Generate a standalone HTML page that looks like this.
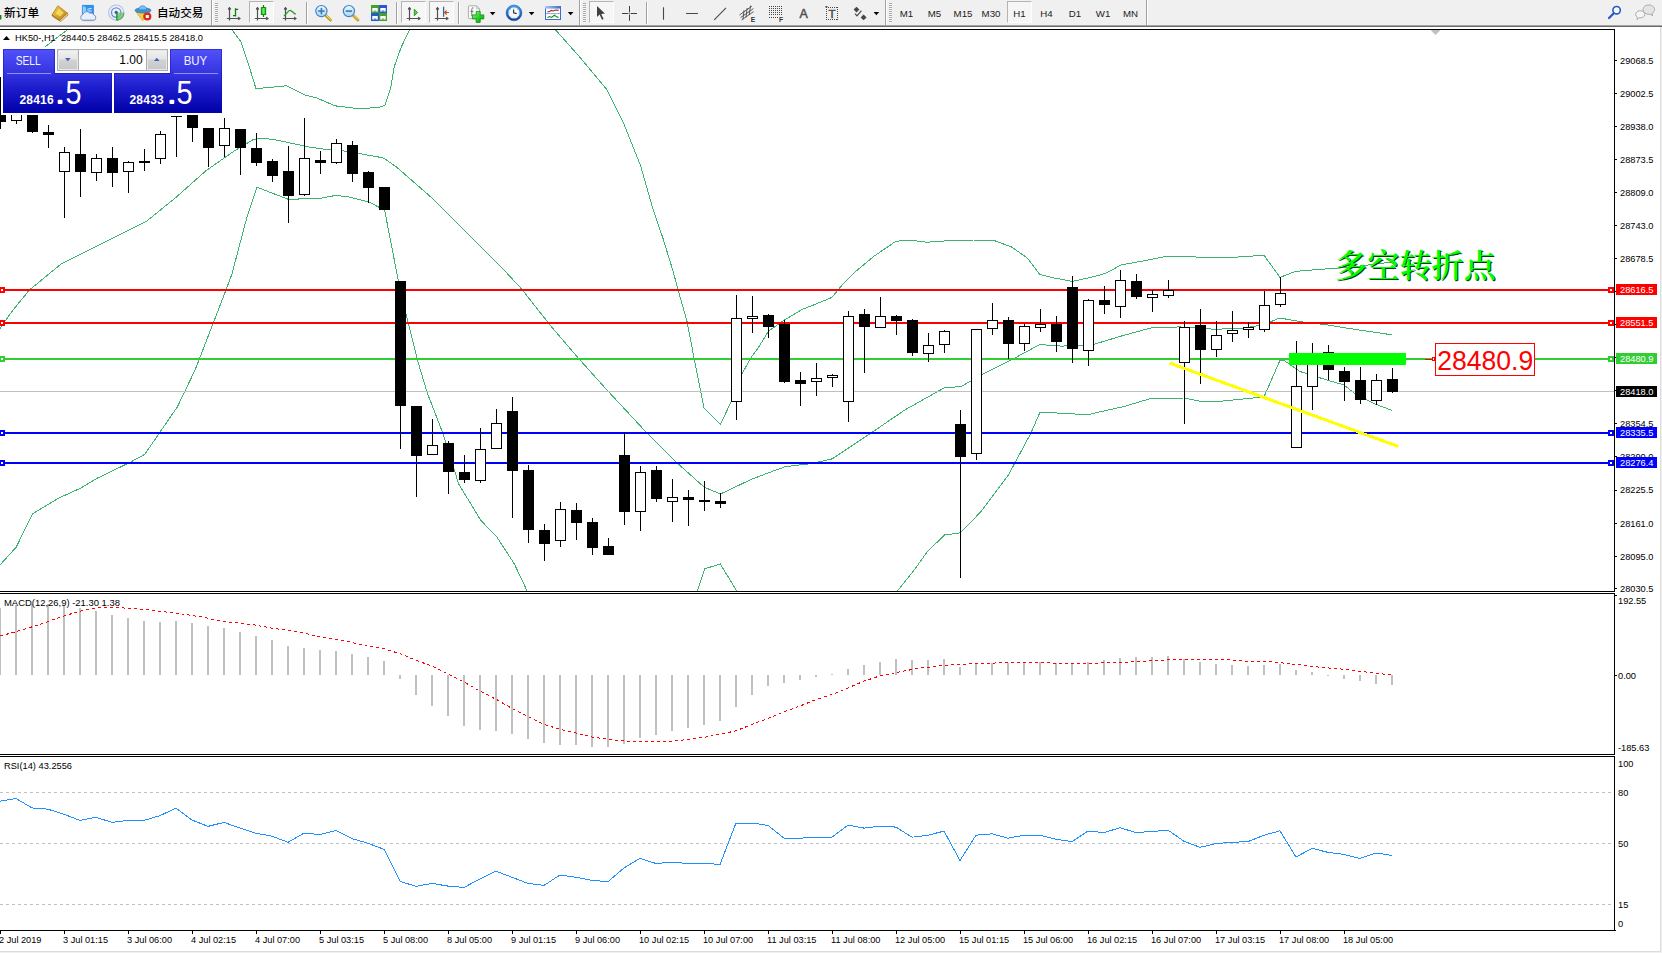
<!DOCTYPE html><html><head><meta charset="utf-8"><title>HK50-,H1</title>
<style>
html,body{margin:0;padding:0}
body{width:1662px;height:953px;overflow:hidden;position:relative;background:#f0f0f0;font-family:"Liberation Sans","Noto Sans CJK SC",sans-serif;}
#tb{position:absolute;left:0;top:0;width:1662px;height:25px;background:#f0f0f0}
#tb .t{position:absolute;white-space:nowrap;color:#000}
#tb svg{position:absolute;overflow:visible}
.sep{position:absolute;top:2px;width:1px;height:22px;background:#a0a0a0;box-shadow:1px 0 0 #fff}
.grip{position:absolute;top:3px;width:3px;height:20px;background:repeating-linear-gradient(to bottom,#a8a8a8 0,#a8a8a8 1px,#f8f8f8 1px,#f8f8f8 2px)}
.pr{position:absolute;top:1px;height:22px;box-sizing:border-box;border:1px solid #b4b4b4;border-right-color:#fdfdfd;border-bottom-color:#fdfdfd;background:#f6f6f6}
.tf{position:absolute;top:7.5px;font-size:9.7px;line-height:11px;color:#222}
#chart{position:absolute;left:0;top:0}
#chart text{font-family:"Liberation Sans","Noto Sans CJK SC",sans-serif}
#chart .zh text{font-family:"Liberation Serif","Noto Serif CJK SC",serif;font-weight:600}
</style></head><body>
<div id="tb">
<div class="pr" style="left:249px;width:25px"></div>
<div class="pr" style="left:401px;width:25px"></div>
<div class="pr" style="left:429px;width:25px"></div>
<div class="pr" style="left:589px;width:25px"></div>
<div class="pr" style="left:1007px;width:25px"></div>
<div class="sep" style="left:306px"></div>
<div class="sep" style="left:396px"></div>
<div class="sep" style="left:458px"></div>
<div class="sep" style="left:646px"></div>
<div class="sep" style="left:211px;top:0;height:25px"></div>
<div class="sep" style="left:579px;top:0;height:25px"></div>
<div class="sep" style="left:885px;top:0;height:25px"></div>
<div class="sep" style="left:1146px;top:0;height:25px"></div>
<div class="grip" style="left:215px"></div>
<div class="grip" style="left:583px"></div>
<div class="grip" style="left:889px"></div>
<div class="t" style="left:4px;top:3.6px;font-size:11.7px;line-height:17px;font-weight:500">新订单</div>
<div class="t" style="left:157px;top:3.5px;font-size:11.6px;line-height:17px;font-weight:500">自动交易</div>
<div class="tf" style="left:906.5px;width:40px;margin-left:-20px;text-align:center">M1</div>
<div class="tf" style="left:934.5px;width:40px;margin-left:-20px;text-align:center">M5</div>
<div class="tf" style="left:963.0px;width:40px;margin-left:-20px;text-align:center">M15</div>
<div class="tf" style="left:991.0px;width:40px;margin-left:-20px;text-align:center">M30</div>
<div class="tf" style="left:1019.5px;width:40px;margin-left:-20px;text-align:center">H1</div>
<div class="tf" style="left:1046.5px;width:40px;margin-left:-20px;text-align:center">H4</div>
<div class="tf" style="left:1075.0px;width:40px;margin-left:-20px;text-align:center">D1</div>
<div class="tf" style="left:1103.0px;width:40px;margin-left:-20px;text-align:center">W1</div>
<div class="tf" style="left:1130.5px;width:40px;margin-left:-20px;text-align:center">MN</div>
<svg width="1662" height="25" viewBox="0 0 1662 25" style="left:0;top:0">
<defs>
<linearGradient id="gold" x1="0" y1="0" x2="1" y2="1"><stop offset="0" stop-color="#f6d84a"/><stop offset="1" stop-color="#b87818"/></linearGradient>
<linearGradient id="lens" x1="0" y1="0" x2="0" y2="1"><stop offset="0" stop-color="#e8f6ff"/><stop offset="1" stop-color="#a8d8f4"/></linearGradient>
<linearGradient id="grn" x1="0" y1="0" x2="1" y2="0"><stop offset="0" stop-color="#18c018"/><stop offset="0.5" stop-color="#60f060"/><stop offset="1" stop-color="#18c018"/></linearGradient>
<g id="axes" fill="none" stroke="#505050" stroke-width="1.2"><path d="M3.5 7.5 V20.5 M0.8 18.5 H14"/><path d="M2.2 9.2 L3.5 7.2 L4.8 9.2 Z M12.4 17.2 L14.4 18.5 L12.4 19.8 Z" stroke-width="0.9" fill="#505050"/></g>
<linearGradient id="ring" x1="0" y1="0" x2="0" y2="1"><stop offset="0" stop-color="#3c9cf4"/><stop offset="1" stop-color="#0c48a4"/></linearGradient>
<linearGradient id="plus" x1="0" y1="0" x2="1" y2="1"><stop offset="0" stop-color="#90ff90"/><stop offset="0.5" stop-color="#30d030"/><stop offset="1" stop-color="#08a008"/></linearGradient>
<linearGradient id="hdr" x1="0" y1="0" x2="1" y2="0"><stop offset="0" stop-color="#a8c8f8"/><stop offset="1" stop-color="#3c6cd0"/></linearGradient>
<path id="dd" d="M0 0 H5.6 L2.8 3.2 Z" fill="#000"/>
</defs>
<rect x="0" y="15" width="1.4" height="4.5" fill="#108010"/>
<path d="M52 14.9 L57.9 5.7 L67.5 13.2 L59.9 20.5 Z" fill="url(#gold)" stroke="#b07818" stroke-width="0.8" stroke-linejoin="round"/>
<path d="M59.9 20.5 L67.5 13.2 L68 15 L60.6 21.6 L52.4 16.2 L52 14.9 Z" fill="#e8c878" stroke="#9a6410" stroke-width="0.7" stroke-linejoin="round"/>
<path d="M60.2 21 L67.7 14.2" stroke="#fff8e0" stroke-width="0.6"/><path d="M55.6 13.6 L58.8 8.8 L63.8 12.8 L60 16.6 Z" fill="#fce46c" opacity="0.75"/>
<path d="M82.4 5.4 H93.4 V14.5 H82.4 Z" fill="#2a96f4" stroke="#1a70d8" stroke-width="0.7"/><path d="M82.8 5.8 L86 7.4 V14 H82.8 Z" fill="#8fd0ff"/><path d="M87.4 9.2 L91.6 8.4 M87.4 11 H91.6" stroke="#e0f4ff" stroke-width="1"/>
<path d="M83.2 20.6 a3.2 3.2 0 0 1 -0.2 -6.2 a3.8 3.8 0 0 1 6.8 -1.2 a2.8 2.8 0 0 1 3.9 1.7 a2.9 2.9 0 0 1 -0.9 5.7 Z" fill="#eaf0fa" stroke="#6c88c4" stroke-width="0.9"/><path d="M82.6 19.6 H93.6" stroke="#c0cce4" stroke-width="1"/>
<g fill="none"><circle cx="116.2" cy="12.6" r="7.6" stroke="#b0c0e6" stroke-width="1.1"/><circle cx="116.2" cy="12.6" r="4.7" stroke="#6c8cd8" stroke-width="1.3"/><path d="M116.4 12.6 V20.4 A7.8 7.8 0 0 0 124 12.6 Z" fill="#78c078" fill-opacity="0.8"/><path d="M117 20.3 A7.7 7.7 0 0 0 123.9 12.8" stroke="#58a860" stroke-width="1.1"/><circle cx="116.2" cy="12.4" r="1.6" fill="#2c58cc"/><path d="M116.8 13 V20.6" stroke="#18a820" stroke-width="1.5"/></g>
<path d="M136.2 12 L150 12 L142.6 20.8 Z" fill="#f6d040" stroke="#d0a020" stroke-width="0.7" stroke-linejoin="round"/><ellipse cx="143" cy="10.4" rx="8" ry="2.6" fill="#3c94dc" stroke="#2c74b8" stroke-width="0.7"/><path d="M138.7 9.8 C138.7 4.4 146.6 4.4 146.6 9.8 Z" fill="#7cc0ec" stroke="#2c7cc0" stroke-width="0.6"/><circle cx="147.3" cy="16.5" r="4.1" fill="#dc2c14"/><rect x="145.8" y="15" width="3" height="3" fill="#fff"/>
<use href="#axes" x="226" y="0"/><path d="M235.5 8.3 V16.5 M235.5 9.3 H238.2 M233 15.6 H235.5" stroke="#088008" stroke-width="1.3" fill="none"/>
<use href="#axes" x="254" y="0"/><path d="M263.5 5 V17" stroke="#088008" stroke-width="1.2"/><rect x="261.3" y="7.6" width="4.4" height="7" fill="url(#grn)" stroke="#088008" stroke-width="0.9"/>
<use href="#axes" x="282" y="0"/><path d="M284 15.9 C286.5 14.5 288 10.4 290 10.4 C292 10.4 293.5 13.4 295.8 14.2" stroke="#2a9a2a" stroke-width="1.3" fill="none"/>
<path d="M325.6 15.2 L330.4 20" stroke="#c8a020" stroke-width="3" stroke-linecap="round"/><path d="M326.0 15 L330.4 19.4" stroke="#f0dc78" stroke-width="1" stroke-linecap="round"/>
<circle cx="321.4" cy="11.1" r="5.6" fill="url(#lens)" stroke="#3c80d0" stroke-width="1.2"/>
<path d="M318.2 11.1 H324.6" stroke="#3c7ca8" stroke-width="1.6"/>
<path d="M321.4 7.9 V14.3" stroke="#3c7ca8" stroke-width="1.6"/>
<path d="M353.1 15.2 L357.9 20" stroke="#c8a020" stroke-width="3" stroke-linecap="round"/><path d="M353.5 15 L357.9 19.4" stroke="#f0dc78" stroke-width="1" stroke-linecap="round"/>
<circle cx="348.9" cy="11.1" r="5.6" fill="url(#lens)" stroke="#3c80d0" stroke-width="1.2"/>
<path d="M345.7 11.1 H352.1" stroke="#3c7ca8" stroke-width="1.6"/>
<rect x="371" y="5" width="8" height="8" fill="#44a028"/><rect x="372.3" y="8.0" width="5.4" height="3.6" fill="#fff"/><rect x="373.7" y="10.6" width="2.6" height="1" fill="#44a028"/>
<rect x="379" y="5" width="8" height="8" fill="#2858d0"/><rect x="380.3" y="8.0" width="5.4" height="3.6" fill="#fff"/><rect x="381.7" y="10.6" width="2.6" height="1" fill="#2858d0"/>
<rect x="371" y="13" width="8" height="8" fill="#2858d0"/><rect x="372.3" y="16.0" width="5.4" height="3.6" fill="#fff"/><rect x="373.7" y="18.6" width="2.6" height="1" fill="#2858d0"/>
<rect x="379" y="13" width="8" height="8" fill="#44a028"/><rect x="380.3" y="16.0" width="5.4" height="3.6" fill="#fff"/><rect x="381.7" y="18.6" width="2.6" height="1" fill="#44a028"/>
<use href="#axes" x="406" y="0"/><path d="M414.3 9.2 L417.6 12.5 L414.3 15.8 Z" fill="#58d058" stroke="#108810" stroke-width="0.8"/>
<use href="#axes" x="434" y="0"/><path d="M443.6 6.7 V16.8" stroke="#2070a8" stroke-width="1.3"/><path d="M449 12.5 H444.6 M446.6 10.5 L444.6 12.5 L446.6 14.5" stroke="#d04808" stroke-width="1.1" fill="none"/>
<path d="M469.3 5.8 H476.6 L479.6 8.8 V17.6 Q479.6 18.6 478.6 18.6 H469.3 Q468.4 18.6 468.4 17.6 V6.8 Q468.4 5.8 469.3 5.8 Z" fill="#fafafa" stroke="#a4a4a4" stroke-width="0.9"/><path d="M476.6 5.8 V8.8 H479.6" fill="none" stroke="#a4a4a4" stroke-width="0.7"/><path d="M473.6 8 C471.8 7.4 471.8 9 471.8 10 V16 M470.4 11.4 H473.4" stroke="#5a5040" stroke-width="0.8" fill="none"/>
<path d="M476.2 11.4 H480.2 V14.9 H483.8 V18.9 H480.2 V22.4 H476.2 V18.9 H472.4 V14.9 H476.2 Z" fill="url(#plus)" stroke="#0c8c0c" stroke-width="0.8"/>
<use href="#dd" x="489.8" y="12"/>
<circle cx="514" cy="12.9" r="6.8" fill="#f4f6f8" stroke="url(#ring)" stroke-width="2.3"/><circle cx="514" cy="12.9" r="7.9" fill="none" stroke="#0c3c8c" stroke-width="0.4"/>
<g stroke="#9098a0" stroke-width="0.6"><path d="M514 7.6 V8.6 M514 17.2 V18.2 M508.7 12.9 H509.7 M518.3 12.9 H519.3 M510.3 9.2 L510.9 9.8 M517.7 9.2 L517.1 9.8 M510.3 16.6 L510.9 16 M517.7 16.6 L517.1 16"/></g>
<path d="M513.6 9.4 V12.8 L516.6 13.6" stroke="#303030" stroke-width="1.1" fill="none"/>
<use href="#dd" x="528.8" y="12"/>
<rect x="545.5" y="6.5" width="15" height="13" fill="#fff" stroke="#3c6cd0" stroke-width="1"/><rect x="545" y="6" width="16" height="2.6" fill="url(#hdr)"/><path d="M546 13.6 H560" stroke="#7c9ce0" stroke-width="0.9"/><path d="M547.4 12 L549.6 11.6 L551.2 10.4 L553.4 11 L555.4 10 L558.6 10.4" stroke="#a82810" stroke-width="1.1" fill="none"/><path d="M547.4 17.6 L549.6 16.6 L551.6 17.4 L554.4 15.2 L556.2 16.4 L558.6 17.6" stroke="#109018" stroke-width="1.1" fill="none"/>
<use href="#dd" x="567.8" y="12"/>
<path d="M597 6 V16.9 L599.6 14.6 L602 19.8 L603.6 19 L601.2 14 L604.9 13.6 Z" fill="#404040"/>
<path d="M622 13.5 H628 M631 13.5 H637 M629.5 6 V12 M629.5 15 V20.8" stroke="#404040" stroke-width="1"/><path d="M628 13.5 H631 M629.5 12 V15" stroke="#a0a0a0" stroke-width="1"/>
<path d="M663.5 7.2 V19.8 M686 13.5 H698 M714.2 19.8 L726 7.8" stroke="#484848" stroke-width="1.1" fill="none"/>
<g stroke="#484848" stroke-width="0.9" fill="none"><path d="M739.5 15 L751.8 6.2 M740.6 17.6 L753.4 8.6 M741.6 20 L753.6 11.6"/><path d="M744 10.2 L743 19.4 M747.2 8 L746 17.4 M750.6 5.6 L749.2 15"/></g>
<text x="750.8" y="21.7" font-size="6.6" font-weight="bold" fill="#333" font-family="'Liberation Sans',sans-serif">E</text>
<g stroke="#484848" stroke-width="1" stroke-dasharray="1 1" fill="none" shape-rendering="crispEdges"><path d="M769 6.5 H783 M769 8.5 H783 M769 10.5 H783 M769 12.5 H783 M769 14.5 H783 M769 17.5 H778"/></g>
<text x="779" y="21.7" font-size="6.6" font-weight="bold" fill="#333" font-family="'Liberation Sans',sans-serif">F</text>
<text x="803.6" y="17.8" font-size="12.4" stroke="#505050" stroke-width="0.5" fill="#505050" text-anchor="middle" font-family="'Liberation Sans',sans-serif">A</text>
<g stroke="#484848" stroke-width="1" stroke-dasharray="1 1" shape-rendering="crispEdges" fill="none"><path d="M826 7.5 H838 M826 19.5 H838 M826.5 7 V20 M837.5 7 V20"/></g><rect x="825.4" y="6" width="2" height="1.4" fill="#484848"/>
<text x="832" y="17.8" font-size="11.6" stroke="#505050" stroke-width="0.5" fill="#505050" text-anchor="middle" font-family="'Liberation Sans',sans-serif">T</text>
<path d="M856.5 6.8 L859.4 9.6 L856.5 12.4 L853.6 9.6 Z M863.6 14.6 L866.6 17.4 L863.6 20.2 L860.6 17.4 Z" fill="#484848"/><path d="M855 13.6 L857 15.8 L861.4 10.6" stroke="#484848" stroke-width="1.2" fill="none"/>
<use href="#dd" x="873.6" y="12"/>
<circle cx="1616.6" cy="10.2" r="3.7" fill="#f8fbff" stroke="#2458c8" stroke-width="1.6"/><path d="M1613.8 13.2 L1609 18" stroke="#2458c8" stroke-width="2.2" stroke-linecap="round"/>
<path d="M1643 9.6 a5.8 4.6 0 1 1 9 3.8 l0.6 2.4 l-2.6 -1.6 a5.8 4.6 0 0 1 -7 -4.6 Z" fill="#e4e4e4" stroke="#9a9a9a" stroke-width="0.8"/>
<path d="M1635.6 14.4 a4.6 3.6 0 1 1 3.4 3.4 l-2 1.8 l0.3 -2.4 a4.6 3.6 0 0 1 -1.7 -2.8 Z" fill="#f4f4f4" stroke="#9a9a9a" stroke-width="0.8"/>
</svg>
</div>
<svg id="chart" width="1662" height="953" viewBox="0 0 1662 953">
<defs>
<clipPath id="cm"><rect x="0" y="30" width="1614" height="561"/></clipPath>
<clipPath id="cd"><rect x="0" y="594" width="1614" height="160"/></clipPath>
<linearGradient id="gb" x1="0" y1="0" x2="0" y2="1"><stop offset="0" stop-color="#5252fb"/><stop offset="0.38" stop-color="#3434e0"/><stop offset="0.62" stop-color="#1c1ccc"/><stop offset="1" stop-color="#0000a8"/></linearGradient>
<linearGradient id="gs" x1="0" y1="0" x2="0" y2="1"><stop offset="0" stop-color="#f2f2f2"/><stop offset="0.45" stop-color="#e4e4e4"/><stop offset="0.5" stop-color="#d2d2d2"/><stop offset="1" stop-color="#c8c8c8"/></linearGradient>
</defs>
<rect x="0" y="25" width="1662" height="1" fill="#a6a6a6"/>
<rect x="0" y="26" width="1662" height="1" fill="#696969"/>
<rect x="0" y="27" width="1660" height="924" fill="#fff"/>
<rect x="1660" y="27" width="1" height="925" fill="#dcdcdc"/>
<rect x="0" y="951" width="1661" height="1" fill="#dcdcdc"/>
<g shape-rendering="crispEdges">
<rect x="0" y="29" width="1615" height="1" fill="#000"/>
<rect x="1614" y="29" width="1" height="902" fill="#000"/>
<rect x="0" y="591" width="1615" height="1" fill="#000"/>
<rect x="0" y="593" width="1615" height="1" fill="#000"/>
<rect x="0" y="754" width="1615" height="1" fill="#000"/>
<rect x="0" y="756" width="1615" height="1" fill="#000"/>
<rect x="0" y="930" width="1616" height="1" fill="#000"/>
<rect x="1614" y="592" width="1" height="1" fill="#fff"/><rect x="1614" y="755" width="1" height="1" fill="#fff"/>
</g>
<g clip-path="url(#cm)">
<g fill="none" stroke="#3cb371" stroke-width="1" shape-rendering="crispEdges">
<polyline points="0.0,82.0 45.0,47.0 67.0,30.0 72.0,26.0"/>
<polyline points="230.0,26.0 232.0,30.0 240.8,41.7 249.6,68.0 256.0,88.7 286.3,85.8 305.4,95.2 317.0,98.0 334.8,105.8 361.0,109.0 380.0,107.0 384.8,105.5 390.6,88.7 394.2,66.8 401.3,47.0 409.5,30.0 411.0,26.0"/>
<polyline points="552.0,26.0 555.7,30.0 578.4,55.5 606.7,89.5 623.7,123.5 640.7,166.0 652.0,205.7 663.4,239.7 672.7,270.0 680.4,298.0 686.8,320.4 694.7,361.3 704.2,408.5 720.5,424.2 730.9,402.2 736.0,388.0 741.9,373.9 752.0,356.0 757.7,348.7 768.0,332.0 770.3,329.8 784.0,320.4 802.0,309.5 816.0,304.0 831.6,297.6 842.6,284.5 855.0,272.0 873.9,256.3 895.8,241.3 908.3,240.0 927.0,242.2 949.0,240.7 974.0,240.0 992.8,240.0 1011.5,247.0 1027.2,257.9 1039.7,274.5 1052.2,277.6 1072.5,281.4 1088.0,278.0 1105.4,273.5 1121.0,265.0 1143.0,261.0 1168.0,256.0 1194.0,256.9 1211.8,257.9 1223.0,258.0 1249.3,256.3 1264.0,255.2 1280.0,277.4 1295.5,271.4 1312.0,270.0 1341.0,267.8 1360.0,266.0 1392.0,262.0"/>
<polyline points="0.0,328.4 13.0,310.0 29.4,290.0 61.7,263.5 97.0,245.9 146.8,221.0 176.0,197.4 205.6,171.0 235.0,150.4 254.0,139.2 262.7,138.3 274.0,139.6 290.4,143.0 308.0,146.8 328.2,149.7 343.3,150.9 362.2,154.1 381.8,157.6 385.7,159.5 397.0,167.4 408.3,177.3 431.0,197.2 470.7,236.9 504.5,270.6 521.7,289.1 550.0,325.0 578.3,358.1 606.6,389.6 646.0,432.0 674.3,460.4 704.2,487.2 720.5,494.0 751.4,479.3 768.0,473.0 785.2,466.7 812.0,463.5 832.4,458.8 870.0,433.7 904.8,410.0 944.0,388.0 961.4,386.4 980.3,375.4 1008.6,361.3 1017.8,356.4 1039.7,344.6 1061.6,346.1 1092.9,344.6 1124.2,335.2 1150.7,328.0 1179.6,326.9 1215.8,329.3 1244.8,328.0 1264.0,324.5 1279.8,318.0 1300.0,321.6 1326.8,324.8 1358.7,330.0 1392.0,334.8"/>
<polyline points="0.0,565.0 16.3,547.0 32.5,513.8 58.6,498.2 81.3,487.8 97.6,478.0 130.0,462.4 144.8,454.3 159.4,433.0 177.3,407.0 195.2,369.7 214.7,319.3 226.0,290.0 232.0,273.8 246.7,218.0 257.0,187.2 289.2,199.7 304.0,198.6 320.7,198.2 335.8,195.4 348.4,196.9 368.5,201.9 378.6,207.0 384.7,210.6 398.4,281.0 405.2,311.0 417.8,361.3 427.2,392.7 443.0,433.7 458.7,484.0 480.7,520.2 497.2,537.5 514.4,564.0 527.0,590.7 530.0,596.0"/>
<polyline points="696.0,596.0 697.5,590.7 704.7,568.8 720.3,564.0 736.6,590.7 739.0,596.0"/>
<polyline points="894.0,596.0 897.7,590.7 914.2,570.0 927.4,551.6 944.6,535.0 960.3,532.9 980.3,512.3 1008.6,474.6 1030.6,433.7 1040.0,412.3 1062.0,413.2 1087.3,414.8 1100.0,411.8 1124.0,406.5 1150.7,398.5 1184.5,398.0 1200.0,401.2 1220.7,401.2 1244.8,398.8 1264.0,396.9 1279.8,360.7 1283.4,360.0 1300.0,371.5 1326.8,380.0 1343.7,384.8 1355.8,394.4 1375.0,404.0 1392.0,410.4"/>
</g>
<g shape-rendering="crispEdges">
<rect x="0" y="391" width="1614" height="1" fill="#c0c0c0"/>
<rect x="0" y="289" width="1610" height="2" fill="#ff0000"/>
<rect x="-1" y="287" width="6" height="6" fill="#ff0000"/><rect x="1" y="289" width="2" height="2" fill="#fff"/>
<rect x="1608" y="287" width="6" height="6" fill="#ff0000"/><rect x="1610" y="289" width="2" height="2" fill="#fff"/>
<rect x="0" y="322" width="1610" height="2" fill="#ff0000"/>
<rect x="-1" y="320" width="6" height="6" fill="#ff0000"/><rect x="1" y="322" width="2" height="2" fill="#fff"/>
<rect x="1608" y="320" width="6" height="6" fill="#ff0000"/><rect x="1610" y="322" width="2" height="2" fill="#fff"/>
<rect x="0" y="358" width="1610" height="2" fill="#32cd32"/>
<rect x="-1" y="356" width="6" height="6" fill="#32cd32"/><rect x="1" y="358" width="2" height="2" fill="#fff"/>
<rect x="1608" y="356" width="6" height="6" fill="#32cd32"/><rect x="1610" y="358" width="2" height="2" fill="#fff"/>
<rect x="0" y="432" width="1610" height="2" fill="#0000ff"/>
<rect x="-1" y="430" width="6" height="6" fill="#0000ff"/><rect x="1" y="432" width="2" height="2" fill="#fff"/>
<rect x="1608" y="430" width="6" height="6" fill="#0000ff"/><rect x="1610" y="432" width="2" height="2" fill="#fff"/>
<rect x="0" y="462" width="1610" height="2" fill="#0000ff"/>
<rect x="-1" y="460" width="6" height="6" fill="#0000ff"/><rect x="1" y="462" width="2" height="2" fill="#fff"/>
<rect x="1608" y="460" width="6" height="6" fill="#0000ff"/><rect x="1610" y="462" width="2" height="2" fill="#fff"/>
</g>
<g shape-rendering="crispEdges" fill="#000">
<rect x="0" y="77" width="1" height="52"/>
<rect x="-5" y="113" width="11" height="9"/>
<rect x="16" y="95" width="1" height="29"/>
<rect x="11" y="100" width="11" height="21"/>
<rect x="12" y="101" width="9" height="19" fill="#fff"/>
<rect x="32" y="98" width="1" height="35"/>
<rect x="27" y="100" width="11" height="32"/>
<rect x="48" y="125" width="1" height="23"/>
<rect x="43" y="132" width="11" height="3"/>
<rect x="64" y="147" width="1" height="71"/>
<rect x="59" y="152" width="11" height="20"/>
<rect x="60" y="153" width="9" height="18" fill="#fff"/>
<rect x="80" y="129" width="1" height="68"/>
<rect x="75" y="154" width="11" height="18"/>
<rect x="96" y="154" width="1" height="27"/>
<rect x="91" y="158" width="11" height="15"/>
<rect x="92" y="159" width="9" height="13" fill="#fff"/>
<rect x="112" y="147" width="1" height="40"/>
<rect x="107" y="158" width="11" height="15"/>
<rect x="128" y="161" width="1" height="32"/>
<rect x="123" y="162" width="11" height="10"/>
<rect x="124" y="163" width="9" height="8" fill="#fff"/>
<rect x="144" y="149" width="1" height="22"/>
<rect x="139" y="161" width="11" height="2"/>
<rect x="160" y="131" width="1" height="33"/>
<rect x="155" y="134" width="11" height="25"/>
<rect x="156" y="135" width="9" height="23" fill="#fff"/>
<rect x="176" y="116" width="1" height="41"/>
<rect x="171" y="116" width="11" height="1"/>
<rect x="192" y="98" width="1" height="44"/>
<rect x="187" y="100" width="11" height="28"/>
<rect x="208" y="128" width="1" height="39"/>
<rect x="203" y="128" width="11" height="20"/>
<rect x="224" y="118" width="1" height="39"/>
<rect x="219" y="128" width="11" height="18"/>
<rect x="220" y="129" width="9" height="16" fill="#fff"/>
<rect x="240" y="129" width="1" height="46"/>
<rect x="235" y="129" width="11" height="19"/>
<rect x="256" y="133" width="1" height="33"/>
<rect x="251" y="148" width="11" height="15"/>
<rect x="272" y="159" width="1" height="23"/>
<rect x="267" y="161" width="11" height="15"/>
<rect x="288" y="146" width="1" height="77"/>
<rect x="283" y="171" width="11" height="25"/>
<rect x="304" y="118" width="1" height="78"/>
<rect x="299" y="158" width="11" height="37"/>
<rect x="300" y="159" width="9" height="35" fill="#fff"/>
<rect x="320" y="151" width="1" height="23"/>
<rect x="315" y="160" width="11" height="3"/>
<rect x="336" y="139" width="1" height="25"/>
<rect x="331" y="143" width="11" height="20"/>
<rect x="332" y="144" width="9" height="18" fill="#fff"/>
<rect x="352" y="141" width="1" height="41"/>
<rect x="347" y="145" width="11" height="29"/>
<rect x="368" y="171" width="1" height="32"/>
<rect x="363" y="172" width="11" height="16"/>
<rect x="384" y="187" width="1" height="23"/>
<rect x="379" y="187" width="11" height="23"/>
<rect x="400" y="281" width="1" height="168"/>
<rect x="395" y="281" width="11" height="125"/>
<rect x="416" y="406" width="1" height="91"/>
<rect x="411" y="406" width="11" height="50"/>
<rect x="432" y="419" width="1" height="36"/>
<rect x="427" y="445" width="11" height="10"/>
<rect x="428" y="446" width="9" height="8" fill="#fff"/>
<rect x="448" y="441" width="1" height="53"/>
<rect x="443" y="443" width="11" height="29"/>
<rect x="464" y="455" width="1" height="28"/>
<rect x="459" y="472" width="11" height="8"/>
<rect x="480" y="428" width="1" height="55"/>
<rect x="475" y="449" width="11" height="32"/>
<rect x="476" y="450" width="9" height="30" fill="#fff"/>
<rect x="496" y="409" width="1" height="40"/>
<rect x="491" y="423" width="11" height="26"/>
<rect x="492" y="424" width="9" height="24" fill="#fff"/>
<rect x="512" y="397" width="1" height="121"/>
<rect x="507" y="411" width="11" height="60"/>
<rect x="528" y="465" width="1" height="78"/>
<rect x="523" y="470" width="11" height="60"/>
<rect x="544" y="524" width="1" height="37"/>
<rect x="539" y="530" width="11" height="14"/>
<rect x="560" y="502" width="1" height="45"/>
<rect x="555" y="509" width="11" height="32"/>
<rect x="556" y="510" width="9" height="30" fill="#fff"/>
<rect x="576" y="503" width="1" height="37"/>
<rect x="571" y="510" width="11" height="13"/>
<rect x="592" y="518" width="1" height="37"/>
<rect x="587" y="522" width="11" height="26"/>
<rect x="608" y="538" width="1" height="17"/>
<rect x="603" y="546" width="11" height="9"/>
<rect x="624" y="432" width="1" height="93"/>
<rect x="619" y="455" width="11" height="57"/>
<rect x="640" y="466" width="1" height="65"/>
<rect x="635" y="472" width="11" height="40"/>
<rect x="636" y="473" width="9" height="38" fill="#fff"/>
<rect x="656" y="466" width="1" height="36"/>
<rect x="651" y="470" width="11" height="29"/>
<rect x="672" y="479" width="1" height="43"/>
<rect x="667" y="497" width="11" height="5"/>
<rect x="668" y="498" width="9" height="3" fill="#fff"/>
<rect x="688" y="490" width="1" height="36"/>
<rect x="683" y="497" width="11" height="3"/>
<rect x="704" y="481" width="1" height="30"/>
<rect x="699" y="500" width="11" height="2"/>
<rect x="720" y="493" width="1" height="15"/>
<rect x="715" y="501" width="11" height="3"/>
<rect x="736" y="295" width="1" height="125"/>
<rect x="731" y="318" width="11" height="84"/>
<rect x="732" y="319" width="9" height="82" fill="#fff"/>
<rect x="752" y="296" width="1" height="37"/>
<rect x="747" y="316" width="11" height="3"/>
<rect x="748" y="317" width="9" height="1" fill="#fff"/>
<rect x="768" y="314" width="1" height="24"/>
<rect x="763" y="315" width="11" height="12"/>
<rect x="784" y="320" width="1" height="63"/>
<rect x="779" y="324" width="11" height="58"/>
<rect x="800" y="372" width="1" height="34"/>
<rect x="795" y="380" width="11" height="4"/>
<rect x="816" y="363" width="1" height="33"/>
<rect x="811" y="378" width="11" height="4"/>
<rect x="812" y="379" width="9" height="2" fill="#fff"/>
<rect x="832" y="374" width="1" height="13"/>
<rect x="827" y="375" width="11" height="3"/>
<rect x="828" y="376" width="9" height="1" fill="#fff"/>
<rect x="848" y="311" width="1" height="111"/>
<rect x="843" y="316" width="11" height="86"/>
<rect x="844" y="317" width="9" height="84" fill="#fff"/>
<rect x="864" y="309" width="1" height="64"/>
<rect x="859" y="314" width="11" height="13"/>
<rect x="880" y="297" width="1" height="31"/>
<rect x="875" y="316" width="11" height="12"/>
<rect x="876" y="317" width="9" height="10" fill="#fff"/>
<rect x="896" y="315" width="1" height="20"/>
<rect x="891" y="316" width="11" height="5"/>
<rect x="912" y="319" width="1" height="37"/>
<rect x="907" y="320" width="11" height="33"/>
<rect x="928" y="333" width="1" height="29"/>
<rect x="923" y="345" width="11" height="9"/>
<rect x="924" y="346" width="9" height="7" fill="#fff"/>
<rect x="944" y="330" width="1" height="23"/>
<rect x="939" y="331" width="11" height="14"/>
<rect x="940" y="332" width="9" height="12" fill="#fff"/>
<rect x="960" y="410" width="1" height="168"/>
<rect x="955" y="424" width="11" height="33"/>
<rect x="976" y="329" width="1" height="131"/>
<rect x="971" y="329" width="11" height="125"/>
<rect x="972" y="330" width="9" height="123" fill="#fff"/>
<rect x="992" y="303" width="1" height="32"/>
<rect x="987" y="320" width="11" height="9"/>
<rect x="988" y="321" width="9" height="7" fill="#fff"/>
<rect x="1008" y="317" width="1" height="42"/>
<rect x="1003" y="320" width="11" height="24"/>
<rect x="1024" y="324" width="1" height="27"/>
<rect x="1019" y="326" width="11" height="18"/>
<rect x="1020" y="327" width="9" height="16" fill="#fff"/>
<rect x="1040" y="309" width="1" height="23"/>
<rect x="1035" y="324" width="11" height="4"/>
<rect x="1036" y="325" width="9" height="2" fill="#fff"/>
<rect x="1056" y="316" width="1" height="36"/>
<rect x="1051" y="324" width="11" height="18"/>
<rect x="1072" y="276" width="1" height="87"/>
<rect x="1067" y="287" width="11" height="62"/>
<rect x="1088" y="299" width="1" height="67"/>
<rect x="1083" y="300" width="11" height="51"/>
<rect x="1084" y="301" width="9" height="49" fill="#fff"/>
<rect x="1104" y="286" width="1" height="28"/>
<rect x="1099" y="300" width="11" height="5"/>
<rect x="1120" y="270" width="1" height="48"/>
<rect x="1115" y="280" width="11" height="27"/>
<rect x="1116" y="281" width="9" height="25" fill="#fff"/>
<rect x="1136" y="274" width="1" height="25"/>
<rect x="1131" y="281" width="11" height="16"/>
<rect x="1152" y="290" width="1" height="22"/>
<rect x="1147" y="294" width="11" height="4"/>
<rect x="1148" y="295" width="9" height="2" fill="#fff"/>
<rect x="1168" y="280" width="1" height="18"/>
<rect x="1163" y="290" width="11" height="6"/>
<rect x="1164" y="291" width="9" height="4" fill="#fff"/>
<rect x="1184" y="321" width="1" height="103"/>
<rect x="1179" y="327" width="11" height="36"/>
<rect x="1180" y="328" width="9" height="34" fill="#fff"/>
<rect x="1200" y="309" width="1" height="75"/>
<rect x="1195" y="325" width="11" height="25"/>
<rect x="1216" y="321" width="1" height="36"/>
<rect x="1211" y="335" width="11" height="15"/>
<rect x="1212" y="336" width="9" height="13" fill="#fff"/>
<rect x="1232" y="311" width="1" height="31"/>
<rect x="1227" y="330" width="11" height="4"/>
<rect x="1228" y="331" width="9" height="2" fill="#fff"/>
<rect x="1248" y="322" width="1" height="16"/>
<rect x="1243" y="327" width="11" height="3"/>
<rect x="1244" y="328" width="9" height="1" fill="#fff"/>
<rect x="1264" y="291" width="1" height="41"/>
<rect x="1259" y="305" width="11" height="25"/>
<rect x="1260" y="306" width="9" height="23" fill="#fff"/>
<rect x="1280" y="277" width="1" height="30"/>
<rect x="1275" y="293" width="11" height="12"/>
<rect x="1276" y="294" width="9" height="10" fill="#fff"/>
<rect x="1296" y="341" width="1" height="107"/>
<rect x="1291" y="386" width="11" height="62"/>
<rect x="1292" y="387" width="9" height="60" fill="#fff"/>
<rect x="1312" y="343" width="1" height="67"/>
<rect x="1307" y="358" width="11" height="29"/>
<rect x="1308" y="359" width="9" height="27" fill="#fff"/>
<rect x="1328" y="345" width="1" height="35"/>
<rect x="1323" y="352" width="11" height="18"/>
<rect x="1344" y="367" width="1" height="34"/>
<rect x="1339" y="371" width="11" height="11"/>
<rect x="1360" y="367" width="1" height="37"/>
<rect x="1355" y="380" width="11" height="20"/>
<rect x="1376" y="374" width="1" height="31"/>
<rect x="1371" y="380" width="11" height="21"/>
<rect x="1372" y="381" width="9" height="19" fill="#fff"/>
<rect x="1392" y="368" width="1" height="25"/>
<rect x="1387" y="379" width="11" height="13"/>
</g>
<line x1="1169.5" y1="363" x2="1398.5" y2="446.5" stroke="#ffff00" stroke-width="3" shape-rendering="crispEdges"/>
<rect x="1289" y="353" width="117" height="12" fill="#00ff00" shape-rendering="crispEdges"/>
</g>
<g class="zh" font-size="32">
<text x="1336" y="278" fill="#063c06" textLength="161" lengthAdjust="spacingAndGlyphs">多空转折点</text>
<text x="1335" y="277" fill="#00ff00" textLength="161" lengthAdjust="spacingAndGlyphs">多空转折点</text>
</g>
<g shape-rendering="crispEdges"><rect x="1425" y="359" width="10" height="1" fill="#ff0000"/><rect x="1432.5" y="357.5" width="2" height="3" fill="#fff" stroke="#ff0000" stroke-width="1"/>
<rect x="1435.5" y="343.5" width="99" height="32" fill="#fff" stroke="#ff0000" stroke-width="1"/></g>
<text x="1485.2" y="369.5" font-size="27.5" fill="#ff0000" text-anchor="middle" textLength="96" lengthAdjust="spacingAndGlyphs">28480.9</text>
<g font-size="9.8" fill="#000">
<g shape-rendering="crispEdges">
<rect x="1615" y="60" width="2" height="1" fill="#000"/>
<rect x="1615" y="93" width="2" height="1" fill="#000"/>
<rect x="1615" y="126" width="2" height="1" fill="#000"/>
<rect x="1615" y="159" width="2" height="1" fill="#000"/>
<rect x="1615" y="192" width="2" height="1" fill="#000"/>
<rect x="1615" y="225" width="2" height="1" fill="#000"/>
<rect x="1615" y="258" width="2" height="1" fill="#000"/>
<rect x="1615" y="291" width="2" height="1" fill="#000"/>
<rect x="1615" y="324" width="2" height="1" fill="#000"/>
<rect x="1615" y="357" width="2" height="1" fill="#000"/>
<rect x="1615" y="390" width="2" height="1" fill="#000"/>
<rect x="1615" y="423" width="2" height="1" fill="#000"/>
<rect x="1615" y="456" width="2" height="1" fill="#000"/>
<rect x="1615" y="490" width="2" height="1" fill="#000"/>
<rect x="1615" y="523" width="2" height="1" fill="#000"/>
<rect x="1615" y="556" width="2" height="1" fill="#000"/>
<rect x="1615" y="588" width="2" height="1" fill="#000"/>
</g>
<text x="1620" y="63.7" transform="translate(1620 0) scale(0.945 1) translate(-1620 0)">29068.5</text>
<text x="1620" y="96.8" transform="translate(1620 0) scale(0.945 1) translate(-1620 0)">29002.5</text>
<text x="1620" y="129.8" transform="translate(1620 0) scale(0.945 1) translate(-1620 0)">28938.0</text>
<text x="1620" y="162.9" transform="translate(1620 0) scale(0.945 1) translate(-1620 0)">28873.5</text>
<text x="1620" y="195.9" transform="translate(1620 0) scale(0.945 1) translate(-1620 0)">28809.0</text>
<text x="1620" y="229.0" transform="translate(1620 0) scale(0.945 1) translate(-1620 0)">28743.0</text>
<text x="1620" y="262.1" transform="translate(1620 0) scale(0.945 1) translate(-1620 0)">28678.5</text>
<text x="1620" y="295.1" transform="translate(1620 0) scale(0.945 1) translate(-1620 0)">28613.5</text>
<text x="1620" y="328.2" transform="translate(1620 0) scale(0.945 1) translate(-1620 0)">28548.5</text>
<text x="1620" y="361.3" transform="translate(1620 0) scale(0.945 1) translate(-1620 0)">28483.5</text>
<text x="1620" y="394.3" transform="translate(1620 0) scale(0.945 1) translate(-1620 0)">28419.0</text>
<text x="1620" y="427.4" transform="translate(1620 0) scale(0.945 1) translate(-1620 0)">28354.5</text>
<text x="1620" y="460.4" transform="translate(1620 0) scale(0.945 1) translate(-1620 0)">28290.0</text>
<text x="1620" y="493.5" transform="translate(1620 0) scale(0.945 1) translate(-1620 0)">28225.5</text>
<text x="1620" y="526.6" transform="translate(1620 0) scale(0.945 1) translate(-1620 0)">28161.0</text>
<text x="1620" y="559.6" transform="translate(1620 0) scale(0.945 1) translate(-1620 0)">28095.0</text>
<text x="1620" y="592.0" transform="translate(1620 0) scale(0.945 1) translate(-1620 0)">28030.5</text>
</g>
<g font-size="9.8" fill="#fff">
<rect x="1616" y="284" width="41" height="11" fill="#ff0000" shape-rendering="crispEdges"/>
<text x="1620" y="293.2" transform="translate(1620 0) scale(0.945 1) translate(-1620 0)">28616.5</text>
<rect x="1616" y="317" width="41" height="11" fill="#ff0000" shape-rendering="crispEdges"/>
<text x="1620" y="326.2" transform="translate(1620 0) scale(0.945 1) translate(-1620 0)">28551.5</text>
<rect x="1616" y="353" width="41" height="11" fill="#32cd32" shape-rendering="crispEdges"/>
<text x="1620" y="362.2" transform="translate(1620 0) scale(0.945 1) translate(-1620 0)">28480.9</text>
<rect x="1616" y="386" width="41" height="11" fill="#000" shape-rendering="crispEdges"/>
<text x="1620" y="394.7" transform="translate(1620 0) scale(0.945 1) translate(-1620 0)">28418.0</text>
<rect x="1616" y="427" width="41" height="11" fill="#0000ff" shape-rendering="crispEdges"/>
<text x="1620" y="436.2" transform="translate(1620 0) scale(0.945 1) translate(-1620 0)">28335.5</text>
<rect x="1616" y="457" width="41" height="11" fill="#0000ff" shape-rendering="crispEdges"/>
<text x="1620" y="466.2" transform="translate(1620 0) scale(0.945 1) translate(-1620 0)">28276.4</text>
</g>
<path d="M3 40 L6.5 36 L10 40 Z" fill="#000"/>
<text x="15" y="41" font-size="9.8" fill="#000" textLength="188" lengthAdjust="spacingAndGlyphs" xml:space="preserve">HK50-,H1  28440.5 28462.5 28415.5 28418.0</text>
<path d="M1430.5 30 L1440.5 30 L1435.5 35 Z" fill="#c0c0c0"/>
<g>
<rect x="1" y="47" width="223" height="68" fill="#fff"/>
<path d="M3 49 H55 V73 H112 V113 H3 Z" fill="url(#gb)"/><path d="M3.5 49.5 H54.5 V73.5 H111.5 V112.5 H3.5 Z" fill="none" stroke="#0808b0" stroke-opacity="0.45"/>
<path d="M170 49 H222 V113 H114 V73 H170 Z" fill="url(#gb)"/><path d="M170.5 49.5 H221.5 V112.5 H114.5 V73.5 H170.5 Z" fill="none" stroke="#0808b0" stroke-opacity="0.45"/>
<g shape-rendering="crispEdges"><rect x="7" y="73" width="44" height="1" fill="#9090f0"/><rect x="174" y="73" width="44" height="1" fill="#9090f0"/>
<rect x="57.5" y="49.5" width="110" height="21" fill="#fff" stroke="#acacb4"/>
<rect x="58.5" y="50.5" width="19" height="19" fill="url(#gs)" stroke="#e8e8e8" /><rect x="78" y="50" width="1" height="20" fill="#acacb4"/>
<rect x="147.5" y="50.5" width="19" height="19" fill="url(#gs)" stroke="#e8e8e8"/><rect x="146" y="50" width="1" height="20" fill="#acacb4"/></g>
<path d="M65 58 H70.6 L67.8 61.2 Z" fill="#4a5cc0"/><path d="M154 61 H159.6 L156.8 57.8 Z" fill="#4a5cc0"/>
<text x="28.2" y="65" font-size="12" fill="#f4f4ff" text-anchor="middle" textLength="25" lengthAdjust="spacingAndGlyphs">SELL</text>
<text x="195.4" y="65" font-size="12" fill="#f4f4ff" text-anchor="middle" textLength="23.5" lengthAdjust="spacingAndGlyphs">BUY</text>
<text x="142.6" y="64" font-size="12" fill="#000" text-anchor="end">1.00</text>
<text x="19.4" y="104" font-size="12" font-weight="bold" fill="#fff" textLength="34.2" lengthAdjust="spacing">28416</text>
<text x="129.4" y="104" font-size="12" font-weight="bold" fill="#fff" textLength="34.4" lengthAdjust="spacing">28433</text>
<rect x="57.7" y="99.7" width="4.8" height="4.3" rx="1" fill="#fff"/><rect x="169.5" y="99.7" width="4.8" height="4.3" rx="1" fill="#fff"/>
<text x="65.5" y="104.2" font-size="33.6" fill="#fff" textLength="16" lengthAdjust="spacingAndGlyphs">5</text>
<text x="176.6" y="104.2" font-size="33.6" fill="#fff" textLength="16" lengthAdjust="spacingAndGlyphs">5</text>
</g>
<g clip-path="url(#cd)">
<g shape-rendering="crispEdges" fill="#c0c0c0">
<rect x="-1" y="608" width="2" height="67"/>
<rect x="15" y="605" width="2" height="70"/>
<rect x="31" y="604" width="2" height="71"/>
<rect x="47" y="604" width="2" height="71"/>
<rect x="63" y="605" width="2" height="70"/>
<rect x="79" y="608" width="2" height="67"/>
<rect x="95" y="611" width="2" height="64"/>
<rect x="111" y="615" width="2" height="60"/>
<rect x="127" y="618" width="2" height="57"/>
<rect x="143" y="621" width="2" height="54"/>
<rect x="159" y="622" width="2" height="53"/>
<rect x="175" y="621" width="2" height="54"/>
<rect x="191" y="623" width="2" height="52"/>
<rect x="207" y="626" width="2" height="49"/>
<rect x="223" y="628" width="2" height="47"/>
<rect x="239" y="632" width="2" height="43"/>
<rect x="255" y="636" width="2" height="39"/>
<rect x="271" y="640" width="2" height="35"/>
<rect x="287" y="646" width="2" height="29"/>
<rect x="303" y="648" width="2" height="27"/>
<rect x="319" y="650" width="2" height="25"/>
<rect x="335" y="651" width="2" height="24"/>
<rect x="351" y="654" width="2" height="21"/>
<rect x="367" y="657" width="2" height="18"/>
<rect x="383" y="661" width="2" height="14"/>
<rect x="399" y="675" width="2" height="4"/>
<rect x="415" y="675" width="2" height="20"/>
<rect x="431" y="675" width="2" height="31"/>
<rect x="447" y="675" width="2" height="41"/>
<rect x="463" y="675" width="2" height="51"/>
<rect x="479" y="675" width="2" height="55"/>
<rect x="495" y="675" width="2" height="56"/>
<rect x="511" y="675" width="2" height="59"/>
<rect x="527" y="675" width="2" height="64"/>
<rect x="543" y="675" width="2" height="68"/>
<rect x="559" y="675" width="2" height="70"/>
<rect x="575" y="675" width="2" height="70"/>
<rect x="591" y="675" width="2" height="72"/>
<rect x="607" y="675" width="2" height="72"/>
<rect x="623" y="675" width="2" height="69"/>
<rect x="639" y="675" width="2" height="63"/>
<rect x="655" y="675" width="2" height="60"/>
<rect x="671" y="675" width="2" height="56"/>
<rect x="687" y="675" width="2" height="53"/>
<rect x="703" y="675" width="2" height="50"/>
<rect x="719" y="675" width="2" height="46"/>
<rect x="735" y="675" width="2" height="32"/>
<rect x="751" y="675" width="2" height="20"/>
<rect x="767" y="675" width="2" height="11"/>
<rect x="783" y="675" width="2" height="8"/>
<rect x="799" y="675" width="2" height="5"/>
<rect x="815" y="675" width="2" height="2"/>
<rect x="831" y="674" width="2" height="1"/>
<rect x="847" y="669" width="2" height="6"/>
<rect x="863" y="665" width="2" height="10"/>
<rect x="879" y="662" width="2" height="13"/>
<rect x="895" y="659" width="2" height="16"/>
<rect x="911" y="660" width="2" height="15"/>
<rect x="927" y="660" width="2" height="15"/>
<rect x="943" y="659" width="2" height="16"/>
<rect x="959" y="667" width="2" height="8"/>
<rect x="975" y="664" width="2" height="11"/>
<rect x="991" y="663" width="2" height="12"/>
<rect x="1007" y="663" width="2" height="12"/>
<rect x="1023" y="663" width="2" height="12"/>
<rect x="1039" y="662" width="2" height="13"/>
<rect x="1055" y="663" width="2" height="12"/>
<rect x="1071" y="663" width="2" height="12"/>
<rect x="1087" y="662" width="2" height="13"/>
<rect x="1103" y="660" width="2" height="15"/>
<rect x="1119" y="658" width="2" height="17"/>
<rect x="1135" y="657" width="2" height="18"/>
<rect x="1151" y="657" width="2" height="18"/>
<rect x="1167" y="656" width="2" height="19"/>
<rect x="1183" y="659" width="2" height="16"/>
<rect x="1199" y="662" width="2" height="13"/>
<rect x="1215" y="664" width="2" height="11"/>
<rect x="1231" y="665" width="2" height="10"/>
<rect x="1247" y="666" width="2" height="9"/>
<rect x="1263" y="665" width="2" height="10"/>
<rect x="1279" y="664" width="2" height="11"/>
<rect x="1295" y="670" width="2" height="5"/>
<rect x="1311" y="672" width="2" height="3"/>
<rect x="1327" y="675" width="2" height="1"/>
<rect x="1343" y="675" width="2" height="4"/>
<rect x="1359" y="675" width="2" height="6"/>
<rect x="1375" y="675" width="2" height="9"/>
<rect x="1391" y="675" width="2" height="10"/>
</g>
<polyline points="0.0,636.0 15.0,632.0 31.6,627.0 48.0,621.6 60.7,617.0 79.6,611.2 96.0,608.2 111.0,607.0 126.4,608.2 151.6,610.2 177.0,613.3 202.2,617.0 222.4,621.4 252.7,624.6 273.0,628.4 298.2,631.5 321.0,637.3 348.7,641.6 364.0,645.6 384.0,648.7 402.5,654.5 415.0,660.0 432.9,666.3 448.0,673.9 463.0,681.5 480.9,691.6 496.0,699.2 511.2,708.0 528.9,716.9 544.0,724.5 559.2,729.0 576.9,733.3 592.0,737.1 607.2,739.1 622.4,740.9 640.0,741.9 657.8,741.9 673.0,741.1 690.6,739.1 705.8,737.1 721.0,734.1 736.0,730.8 753.8,723.7 769.0,718.1 784.0,711.8 800.0,706.0 815.0,700.0 837.3,692.5 863.4,681.3 878.4,676.4 897.0,672.3 919.4,668.2 941.8,665.6 971.6,663.7 1009.0,662.6 1038.8,662.6 1068.7,663.7 1098.5,663.0 1124.6,662.3 1150.7,660.8 1180.6,659.3 1221.6,659.3 1244.0,661.1 1273.9,661.9 1296.3,664.5 1322.4,667.5 1344.8,669.3 1370.9,672.7 1391.4,674.9" fill="none" stroke="#ff0000" stroke-width="1" stroke-dasharray="3 3" shape-rendering="crispEdges"/>
</g>
<text x="4" y="606" font-size="9.8" fill="#000" textLength="116" lengthAdjust="spacingAndGlyphs">MACD(12,26,9) -21.30 1.38</text>
<g font-size="9.8" fill="#000" transform="translate(1618 0) scale(0.945 1) translate(-1618 0)">
<text x="1618" y="604.0">192.55</text>
<text x="1618" y="679.1">0.00</text>
<text x="1618" y="751.2">-185.63</text>
</g>
<g shape-rendering="crispEdges"><rect x="1615" y="675" width="2" height="1"/><rect x="1615" y="595" width="2" height="1"/></g>
<g shape-rendering="crispEdges" stroke="#c0c0c0" stroke-width="1" stroke-dasharray="3 3">
<line x1="0" y1="792.5" x2="1614" y2="792.5"/>
<line x1="0" y1="843.5" x2="1614" y2="843.5"/>
<line x1="0" y1="904.5" x2="1614" y2="904.5"/>
</g>
<polyline points="0.0,801.2 16.0,798.5 32.0,807.9 48.0,809.2 64.0,814.3 80.0,820.4 96.0,817.3 112.0,822.4 128.0,820.4 144.0,820.4 160.0,815.6 176.0,808.2 192.0,820.0 208.0,826.4 224.0,822.4 240.0,828.1 256.0,833.2 272.0,836.2 288.0,842.3 304.0,833.2 320.0,834.5 336.0,830.5 352.0,838.6 368.0,843.3 384.0,849.3 400.0,881.3 416.0,886.4 432.0,883.4 448.0,886.1 464.0,887.4 480.0,879.0 496.0,871.2 512.0,877.3 528.0,883.4 544.0,885.4 560.0,875.0 576.0,877.3 592.0,880.3 608.0,881.7 624.0,867.9 640.0,858.4 656.0,863.5 672.0,862.1 688.0,863.5 704.0,863.2 720.0,864.5 736.0,823.0 752.0,823.0 768.0,825.4 784.0,838.2 800.0,838.2 816.0,837.2 832.0,837.2 848.0,825.0 864.0,828.1 880.0,826.1 896.0,827.1 912.0,837.2 928.0,835.2 944.0,831.1 960.0,860.5 976.0,835.2 992.0,833.8 1008.0,838.2 1024.0,835.2 1040.0,835.2 1056.0,839.2 1072.0,841.6 1088.0,831.1 1104.0,832.5 1120.0,827.8 1136.0,832.5 1152.0,831.5 1168.0,830.1 1184.0,841.3 1200.0,847.3 1216.0,843.6 1232.0,842.3 1248.0,841.6 1264.0,835.2 1280.0,830.8 1296.0,857.1 1312.0,848.3 1328.0,852.4 1344.0,854.4 1360.0,858.4 1376.0,853.0 1392.0,855.4" fill="none" stroke="#1e90ff" stroke-width="1" shape-rendering="crispEdges"/>
<text x="4" y="769" font-size="9.8" fill="#000" textLength="68" lengthAdjust="spacingAndGlyphs">RSI(14) 43.2556</text>
<g font-size="9.8" fill="#000" transform="translate(1618 0) scale(0.945 1) translate(-1618 0)">
<text x="1618" y="766.9">100</text>
<text x="1618" y="796.2">80</text>
<text x="1618" y="847.1">50</text>
<text x="1618" y="908.1">15</text>
<text x="1618" y="927.4">0</text>
</g>
<g shape-rendering="crispEdges">
<rect x="0" y="931" width="1" height="3"/>
<rect x="64" y="931" width="1" height="3"/>
<rect x="128" y="931" width="1" height="3"/>
<rect x="192" y="931" width="1" height="3"/>
<rect x="256" y="931" width="1" height="3"/>
<rect x="320" y="931" width="1" height="3"/>
<rect x="384" y="931" width="1" height="3"/>
<rect x="448" y="931" width="1" height="3"/>
<rect x="512" y="931" width="1" height="3"/>
<rect x="576" y="931" width="1" height="3"/>
<rect x="640" y="931" width="1" height="3"/>
<rect x="704" y="931" width="1" height="3"/>
<rect x="768" y="931" width="1" height="3"/>
<rect x="832" y="931" width="1" height="3"/>
<rect x="896" y="931" width="1" height="3"/>
<rect x="960" y="931" width="1" height="3"/>
<rect x="1024" y="931" width="1" height="3"/>
<rect x="1088" y="931" width="1" height="3"/>
<rect x="1152" y="931" width="1" height="3"/>
<rect x="1216" y="931" width="1" height="3"/>
<rect x="1280" y="931" width="1" height="3"/>
<rect x="1344" y="931" width="1" height="3"/>
</g>
<g font-size="9.8" fill="#000">
<text x="-1" y="943" transform="translate(-1 0) scale(0.94 1) translate(1 0)">2 Jul 2019</text>
<text x="63" y="943" transform="translate(63 0) scale(0.94 1) translate(-63 0)">3 Jul 01:15</text>
<text x="127" y="943" transform="translate(127 0) scale(0.94 1) translate(-127 0)">3 Jul 06:00</text>
<text x="191" y="943" transform="translate(191 0) scale(0.94 1) translate(-191 0)">4 Jul 02:15</text>
<text x="255" y="943" transform="translate(255 0) scale(0.94 1) translate(-255 0)">4 Jul 07:00</text>
<text x="319" y="943" transform="translate(319 0) scale(0.94 1) translate(-319 0)">5 Jul 03:15</text>
<text x="383" y="943" transform="translate(383 0) scale(0.94 1) translate(-383 0)">5 Jul 08:00</text>
<text x="447" y="943" transform="translate(447 0) scale(0.94 1) translate(-447 0)">8 Jul 05:00</text>
<text x="511" y="943" transform="translate(511 0) scale(0.94 1) translate(-511 0)">9 Jul 01:15</text>
<text x="575" y="943" transform="translate(575 0) scale(0.94 1) translate(-575 0)">9 Jul 06:00</text>
<text x="639" y="943" transform="translate(639 0) scale(0.94 1) translate(-639 0)">10 Jul 02:15</text>
<text x="703" y="943" transform="translate(703 0) scale(0.94 1) translate(-703 0)">10 Jul 07:00</text>
<text x="767" y="943" transform="translate(767 0) scale(0.94 1) translate(-767 0)">11 Jul 03:15</text>
<text x="831" y="943" transform="translate(831 0) scale(0.94 1) translate(-831 0)">11 Jul 08:00</text>
<text x="895" y="943" transform="translate(895 0) scale(0.94 1) translate(-895 0)">12 Jul 05:00</text>
<text x="959" y="943" transform="translate(959 0) scale(0.94 1) translate(-959 0)">15 Jul 01:15</text>
<text x="1023" y="943" transform="translate(1023 0) scale(0.94 1) translate(-1023 0)">15 Jul 06:00</text>
<text x="1087" y="943" transform="translate(1087 0) scale(0.94 1) translate(-1087 0)">16 Jul 02:15</text>
<text x="1151" y="943" transform="translate(1151 0) scale(0.94 1) translate(-1151 0)">16 Jul 07:00</text>
<text x="1215" y="943" transform="translate(1215 0) scale(0.94 1) translate(-1215 0)">17 Jul 03:15</text>
<text x="1279" y="943" transform="translate(1279 0) scale(0.94 1) translate(-1279 0)">17 Jul 08:00</text>
<text x="1343" y="943" transform="translate(1343 0) scale(0.94 1) translate(-1343 0)">18 Jul 05:00</text>
</g>
</svg>
</body></html>
